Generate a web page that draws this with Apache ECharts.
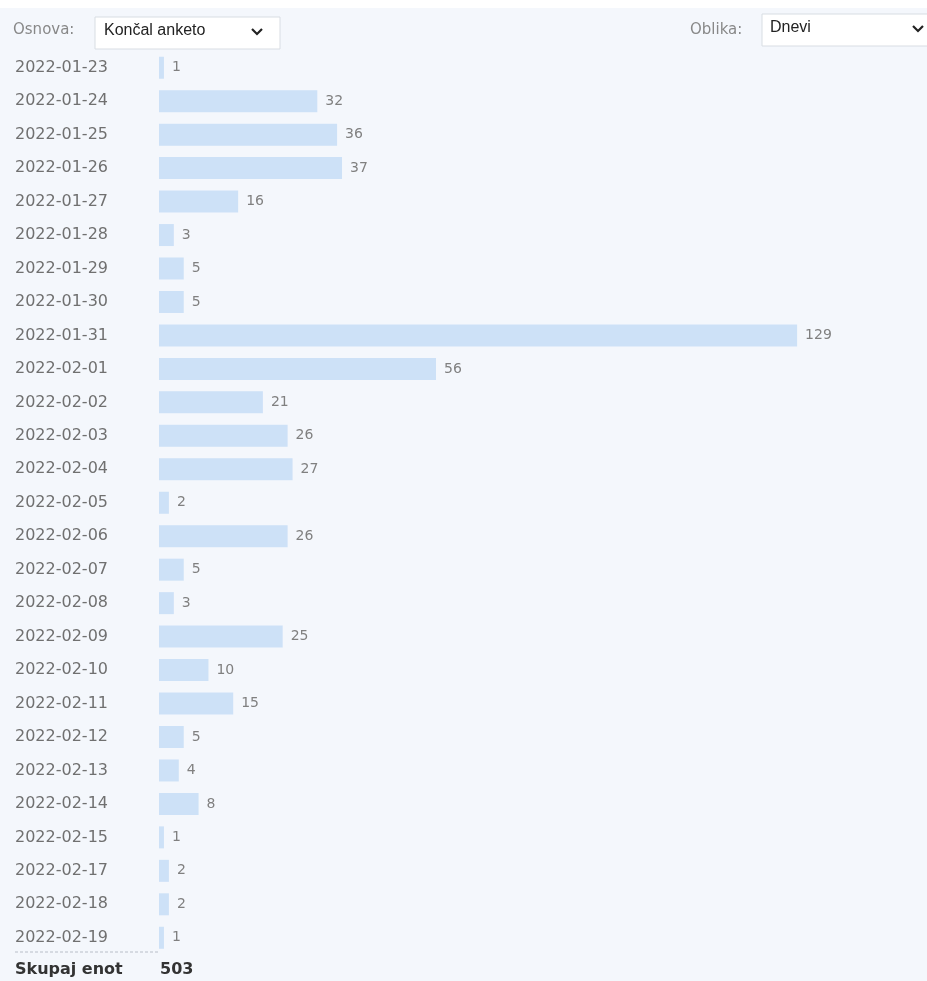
<!DOCTYPE html>
<html>
<head>
<meta charset="utf-8">
<script src="https://cdn.jsdelivr.net/npm/echarts@6/dist/echarts.min.js"></script>
<style>
html,body{margin:0;padding:0;background:#fff;}
#c{width:927px;height:981px;}
</style>
</head>
<body>
<div id="c"></div>
<script>
const categories = ["2022-01-23","2022-01-24","2022-01-25","2022-01-26","2022-01-27","2022-01-28","2022-01-29","2022-01-30","2022-01-31","2022-02-01","2022-02-02","2022-02-03","2022-02-04","2022-02-05","2022-02-06","2022-02-07","2022-02-08","2022-02-09","2022-02-10","2022-02-11","2022-02-12","2022-02-13","2022-02-14","2022-02-15","2022-02-17","2022-02-18","2022-02-19"];
const values = [1,32,36,37,16,3,5,5,129,56,21,26,27,2,26,5,3,25,10,15,5,4,8,1,2,2,1];
const totalLabel = "Skupaj enot";
const totalValue = 503;

const chart = echarts.init(document.getElementById('c'), null, {renderer:'canvas'});
const font = '"DejaVu Sans", Verdana, sans-serif';
chart.setOption({
  backgroundColor: '#ffffff',
  animation: false,
  graphic: [
    {type:'rect', shape:{x:0,y:8,width:927,height:973}, style:{fill:'#f4f7fc'}, z:-10},
    {type:'text', left:13, top:23, style:{text:'Osnova:', fill:'#888', font:'15px '+font}},
    {type:'rect', shape:{x:95,y:17,width:185,height:32}, style:{fill:'#fff', stroke:'#d8dde3', lineWidth:1}},
    {type:'text', left:104, top:23, style:{text:'Končal anketo', fill:'#222', font:'16px Arial, "Liberation Sans", sans-serif'}},
    {type:'polyline', shape:{points:[[252,29],[257,34],[262,29]]}, style:{stroke:'#222', lineWidth:2.2, fill:null}},
    {type:'text', left:690, top:23, style:{text:'Oblika:', fill:'#888', font:'15px '+font}},
    {type:'rect', shape:{x:762,y:14,width:170,height:32}, style:{fill:'#fff', stroke:'#d8dde3', lineWidth:1}},
    {type:'text', left:770, top:20, style:{text:'Dnevi', fill:'#222', font:'16px Arial, "Liberation Sans", sans-serif'}},
    {type:'polyline', shape:{points:[[913,26],[918,31],[923,26]]}, style:{stroke:'#222', lineWidth:2.2, fill:null}},
    {type:'line', shape:{x1:15,y1:952,x2:160,y2:952}, style:{stroke:'#b8bec8', lineWidth:1, lineDash:[3,2]}},
    {type:'text', left:15, top:962, style:{text:totalLabel, fill:'#333', font:'bold 16px '+font}},
    {type:'text', left:160, top:962, style:{text:String(totalValue), fill:'#333', font:'bold 16px '+font}}
  ],
  grid: {left:159, top:51, width:742, height:903.5, containLabel:false},
  xAxis: {type:'value', min:0, max:150, show:false},
  yAxis: {
    type:'category', data:categories, inverse:true,
    axisLine:{show:false}, axisTick:{show:false}, splitLine:{show:false},
    axisLabel:{align:'left', margin:144, color:'#707070', fontSize:16, fontFamily:font}
  },
  series: [{
    type:'bar', data:values, barWidth:22,
    itemStyle:{color:'#cde1f7'},
    label:{show:true, position:'right', distance:8, color:'#808080', fontSize:14, fontFamily:font}
  }]
});
</script>
</body>
</html>
